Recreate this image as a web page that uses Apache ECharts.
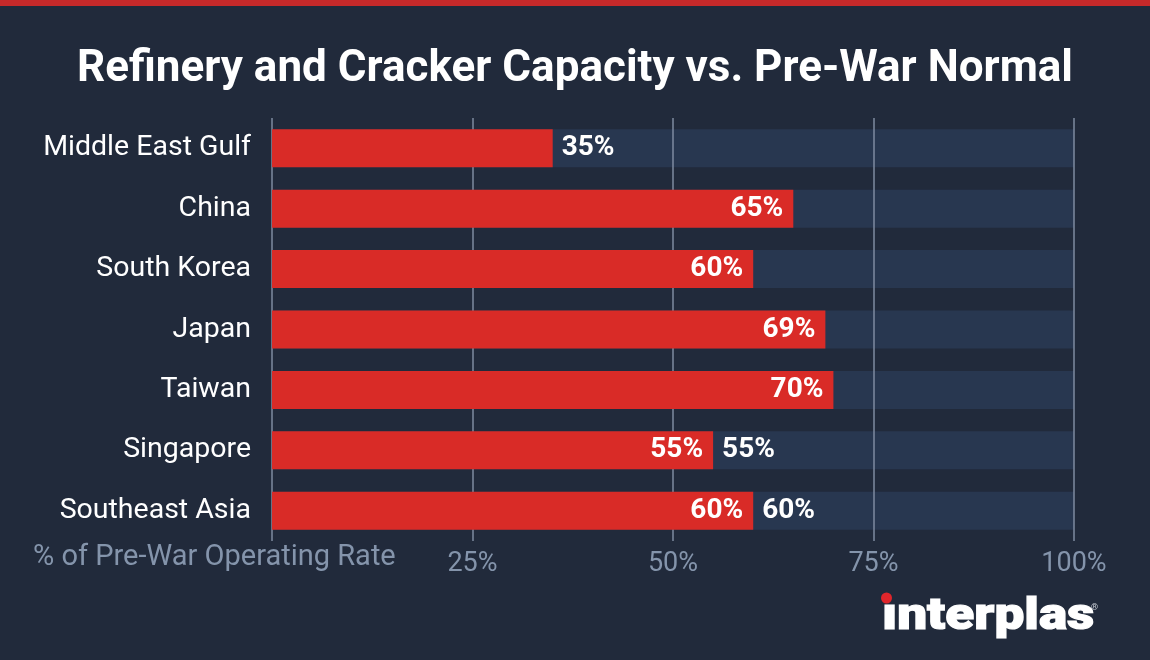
<!DOCTYPE html>
<html><head><meta charset="utf-8">
<script src="https://cdn.jsdelivr.net/npm/echarts@6/dist/echarts.min.js"></script>
<style>html,body{margin:0;padding:0;background:#212a3b;}#c{width:1150px;height:660px;}</style>
</head><body><div id="c"></div>
<script>
const titleText = 'Refinery and Cracker Capacity vs. Pre-War Normal';
const categories = ['Middle East Gulf','China','South Korea','Japan','Taiwan','Singapore','Southeast Asia'];
const values = [35, 65, 60, 69, 70, 55, 60];
const insideLabelShown = [false, true, true, true, true, true, true];
const outsideLabelShown = [true, false, false, false, false, true, true];
const axisTicks = [0, 25, 50, 75, 100];
const axisName = '% of Pre-War Operating Rate';

const chart = echarts.init(document.getElementById('c'), null, {renderer:'canvas'});
const font = 'Roboto, "Noto Sans", sans-serif';
chart.setOption({
  backgroundColor: '#212a3b',
  animation: false,
  title: {
    text: titleText, left: 'center', top: 43,
    textStyle: {color:'#ffffff', fontSize: 44, fontWeight: 'bold', fontFamily: font}
  },
  grid: {left: 272, right: 76, top: 118, bottom: 119, containLabel: false},
  xAxis: {
    type: 'value', min: axisTicks[0], max: axisTicks[axisTicks.length-1], interval: 25, z: 2,
    axisLine: {show:false}, axisTick: {show:false},
    splitLine: {show:true, lineStyle:{color:'#7e8ba0', width:1.5}},
    axisLabel: {color:'#8494ab', fontSize: 27, fontFamily: font, margin: 10,
      formatter: v => v === 0 ? '' : v + '%'}
  },
  yAxis: {
    type: 'category', data: categories, inverse: true,
    axisLine: {show:false}, axisTick: {show:false}, splitLine: {show:false},
    axisLabel: {color:'#ffffff', fontSize: 28.5, fontFamily: font, margin: 21}
  },
  graphic: [
    {type:'rect', left:0, top:0, shape:{width:1150, height:6}, style:{fill:'#c6292a'}},
    {type:'text', left:33, top:543, style:{text: axisName, fill:'#8494ab', font:'29px Roboto, "Noto Sans", sans-serif'}},
    {type:'text', x:882, y:595, scaleX:1.18, style:{text:'\u0131nterplas', fill:'#ffffff', stroke:'#ffffff', lineWidth:1.2, font:'900 45px Roboto, "Noto Sans", sans-serif'}},
    {type:'circle', shape:{cx:886.5, cy:598, r:5.5}, style:{fill:'#e0262b'}},
    {type:'text', left:1091, top:603, style:{text:'\u00ae', fill:'#c9ced6', font:'9px Roboto, sans-serif'}}
  ],
  series: [
    {
      type: 'bar', z: 1, barWidth: 38,
      data: values.map((v,i) => ({value: v, label: {show: outsideLabelShown[i]}})),
      itemStyle: {color: 'rgba(0,0,0,0)'},
      showBackground: true,
      backgroundStyle: {color: '#283750'},
      label: {position: 'right', distance: 9, color:'#ffffff', fontSize: 28, fontWeight:'bold', fontFamily: font,
        formatter: p => p.value + '%'}
    },
    {
      type: 'bar', z: 3, barWidth: 38, barGap: '-100%',
      data: values.map((v,i) => ({value: v, label: {show: insideLabelShown[i]}})),
      itemStyle: {color: '#d92b27'},
      label: {position: 'insideRight', distance: 10, color:'#ffffff', fontSize: 28, fontWeight:'bold', fontFamily: font,
        formatter: p => p.value + '%'}
    }
  ]
});
</script>
</body></html>
